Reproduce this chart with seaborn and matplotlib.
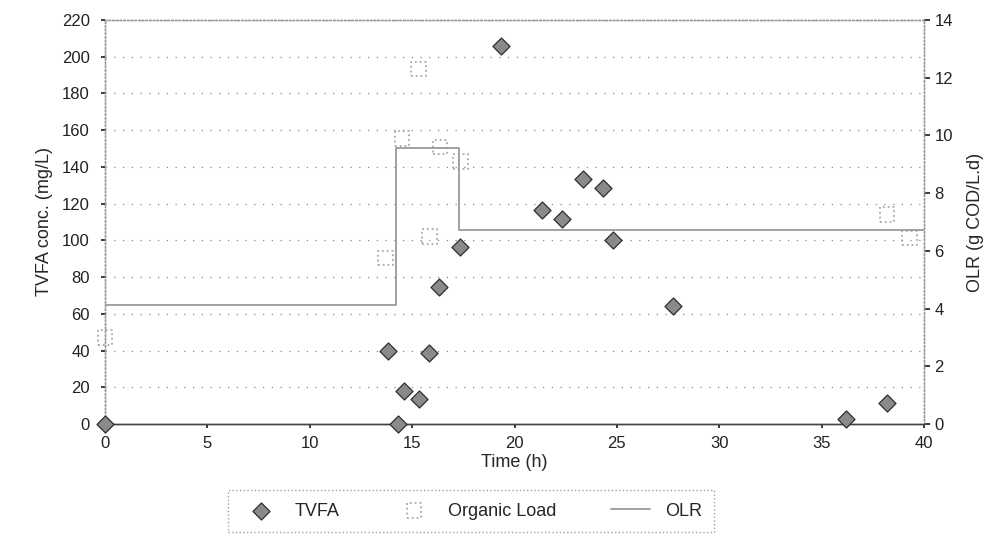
import numpy as np
import pandas as pd
import matplotlib
matplotlib.use("Agg")
import matplotlib.pyplot as plt
import seaborn as sns

# TVFA concentration (mg/L) vs time (h)
tvfa_time = [0.0, 13.8, 14.3, 14.6, 15.35, 15.8, 16.3, 17.35, 19.35, 21.35,
             22.3, 23.35, 24.3, 24.8, 27.75, 36.2, 38.2]
tvfa_conc = [0, 40, 0, 18, 13.5, 38.5, 74.5, 96.5, 206, 116.5,
             111.5, 133.5, 128.5, 100, 64.5, 2.5, 11.5]

# organic load (g COD/L.d), right axis
load_time = [0.0, 13.7, 14.5, 15.3, 15.85, 16.35, 17.35, 38.2, 39.3]
load_val = [3.0, 5.75, 9.9, 12.3, 6.5, 9.6, 9.1, 7.25, 6.45]

# OLR step profile (g COD/L.d)
olr_time = [0.0, 14.2, 17.3, 40.0]
olr_val = [4.12, 9.55, 6.72, 6.72]

sns.set_theme(style="white")
plt.rcParams['font.family'] = ['Liberation Sans', 'DejaVu Sans']

fig = plt.figure(figsize=(10.07, 5.6), dpi=100)
ax = fig.add_axes([0.1043, 0.2429, 0.8133, 0.7214])
ax2 = ax.twinx()

tv = pd.DataFrame({"t": tvfa_time, "c": tvfa_conc})
ld = pd.DataFrame({"t": load_time, "v": load_val})
ol = pd.DataFrame({"t": olr_time, "v": olr_val})

sns.lineplot(data=ol, x="t", y="v", ax=ax2, color="#9a9a9a", linewidth=1.3,
             drawstyle="steps-post", label="OLR", legend=False)
sns.scatterplot(data=ld, x="t", y="v", ax=ax2, marker="s", s=110,
                facecolor="none", edgecolor="#a8a8a8", linewidth=1.3,
                linestyle=":", label="Organic Load", legend=False, clip_on=False)
sns.scatterplot(data=tv, x="t", y="c", ax=ax, marker="D", s=75,
                color="#8a8a8a", edgecolor="#2e2e2e", linewidth=0.9,
                label="TVFA", legend=False, zorder=5, clip_on=False)

ax.set_zorder(ax2.get_zorder() + 1)
ax.patch.set_visible(False)

ax.set_xlim(0, 40)
ax.set_ylim(0, 220)
ax2.set_ylim(0, 14)
ax.set_xticks(np.arange(0, 41, 5))
ax.set_yticks(np.arange(0, 221, 20))
ax2.set_yticks(np.arange(0, 15, 2))
ax.yaxis.grid(True, linestyle=(0, (1, 6)), color="#888888", linewidth=0.9)

ax.set_xlabel("Time (h)", fontsize=13, labelpad=2)
ax.set_ylabel("TVFA conc. (mg/L)", fontsize=13, labelpad=6)
ax2.set_ylabel("OLR (g COD/L.d)", fontsize=13, labelpad=10)
ax.tick_params(axis="both", labelsize=12, colors="#222222", length=3, direction="out")
ax2.tick_params(axis="y", labelsize=12, colors="#222222", length=4, direction="out")
ax.tick_params(axis="x", bottom=True, pad=6)
ax.tick_params(axis="y", left=True, pad=8)

for a in (ax, ax2):
    for side in ("left", "top", "right"):
        a.spines[side].set_linestyle(":")
        a.spines[side].set_color("#999999")
        a.spines[side].set_linewidth(1.0)
    a.spines["bottom"].set_color("#444444")
    a.spines["bottom"].set_linewidth(1.0)

h1, l1 = ax.get_legend_handles_labels()
h2, l2 = ax2.get_legend_handles_labels()
hd = dict(zip(l1 + l2, h1 + h2))
order = ["TVFA", "Organic Load", "OLR"]
leg = fig.legend([hd[k] for k in order], order, loc="center",
                 bbox_to_anchor=(0.468, 0.0875), ncol=3, fontsize=13,
                 frameon=True, fancybox=False, columnspacing=3.0,
                 handlelength=2.2, borderpad=0.7)
leg.get_frame().set_edgecolor("#888888")
leg.get_frame().set_linestyle(":")
leg.get_frame().set_linewidth(1.0)

fig.savefig("out.png", dpi=100)
